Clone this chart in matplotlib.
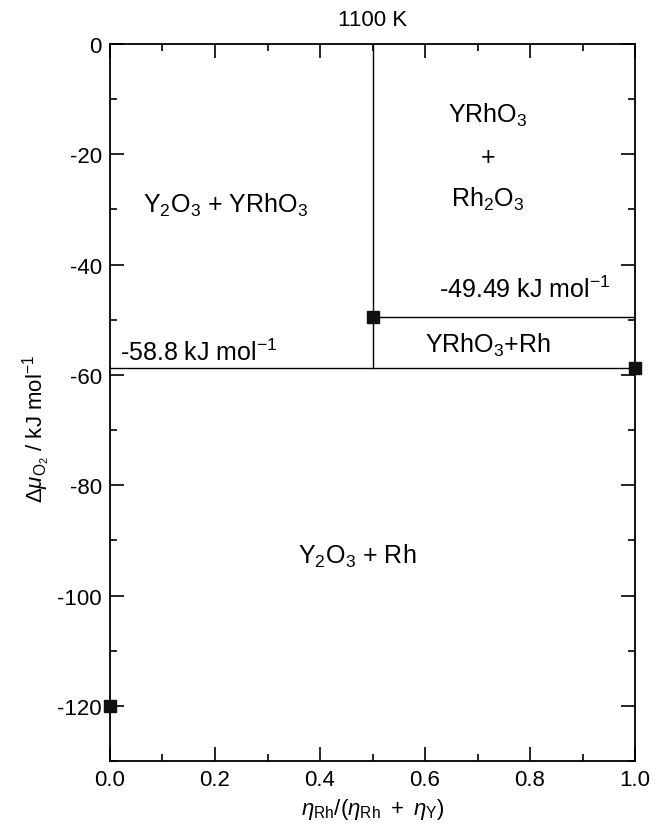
import matplotlib
matplotlib.use("Agg")
import matplotlib.pyplot as plt
from matplotlib.ticker import MultipleLocator

plt.rcParams['font.family'] = ['Liberation Sans', 'DejaVu Sans']
plt.rcParams['mathtext.fontset'] = 'custom'
plt.rcParams['mathtext.rm'] = 'Liberation Sans'
plt.rcParams['mathtext.it'] = 'Liberation Sans:italic'
plt.rcParams['axes.unicode_minus'] = False

# phase boundaries (kJ/mol) at 1100 K
mu_low = -58.8
mu_high = -49.49
x_mid = 0.5

# invariant points
pts_x = [0.5, 1.0, 0.0]
pts_y = [-49.49, -58.8, -120.0]

fig = plt.figure(figsize=(6.61, 8.28), dpi=100)
ax = fig.add_axes([0.1664, 0.0797, 0.7943, 0.866])

ax.plot([0, 1], [mu_low, mu_low], '-k', lw=1)
ax.plot([x_mid, 1], [mu_high, mu_high], '-k', lw=1)
ax.plot([x_mid, x_mid], [0, mu_low], '-k', lw=1)
ax.plot(pts_x, pts_y, 's', color='#111111', ms=8, clip_on=False, zorder=5)

ax.set_xlim(0, 1)
ax.set_ylim(-130, 0)
ax.xaxis.set_major_locator(MultipleLocator(0.2))
ax.xaxis.set_minor_locator(MultipleLocator(0.1))
ax.yaxis.set_major_locator(MultipleLocator(20))
ax.yaxis.set_minor_locator(MultipleLocator(10))
ax.xaxis.set_major_formatter(plt.FuncFormatter(lambda v, p: '%.1f' % v))
ax.tick_params(which='both', direction='in', top=True, right=True, labelsize=16, width=1.2)
ax.tick_params(which='major', length=10, pad=6)
ax.tick_params(which='minor', length=5)
for s in ax.spines.values():
    s.set_linewidth(1.3)

ax.set_title('1100 K', fontsize=16, pad=14)
ax.set_xlabel(r'$\eta_{\mathrm{Rh}}/(\eta_{\mathrm{Rh}}\ +\ \eta_{\mathrm{Y}})$', fontsize=16, labelpad=4)
ax.set_ylabel(r'$\Delta\mu_{\mathrm{O_2}}$ / kJ mol$^{\mathrm{-1}}$', fontsize=16)
ax.yaxis.set_label_coords(-0.108, 0.465)

fs = 18
ax.text(0.221, -29, r'Y$_2$O$_3$ + YRhO$_3$', fontsize=fs, ha='center', va='center')
ax.text(0.72, -12.7, r'YRhO$_3$', fontsize=fs, ha='center', va='center')
ax.text(0.72, -20.5, '+', fontsize=fs, ha='center', va='center')
ax.text(0.72, -28, r'Rh$_2$O$_3$', fontsize=fs, ha='center', va='center')
ax.text(0.79, -44.4, r'-49.49 kJ mol$^{\mathrm{-1}}$', fontsize=fs, ha='center', va='center')
ax.text(0.72, -54.4, r'YRhO$_3$+Rh', fontsize=fs, ha='center', va='center')
ax.text(0.019, -55.8, r'-58.8 kJ mol$^{\mathrm{-1}}$', fontsize=fs, ha='left', va='center')
ax.text(0.47, -92.8, r'Y$_2$O$_3$ + Rh', fontsize=fs, ha='center', va='center')

fig.savefig('out.png', dpi=100)
